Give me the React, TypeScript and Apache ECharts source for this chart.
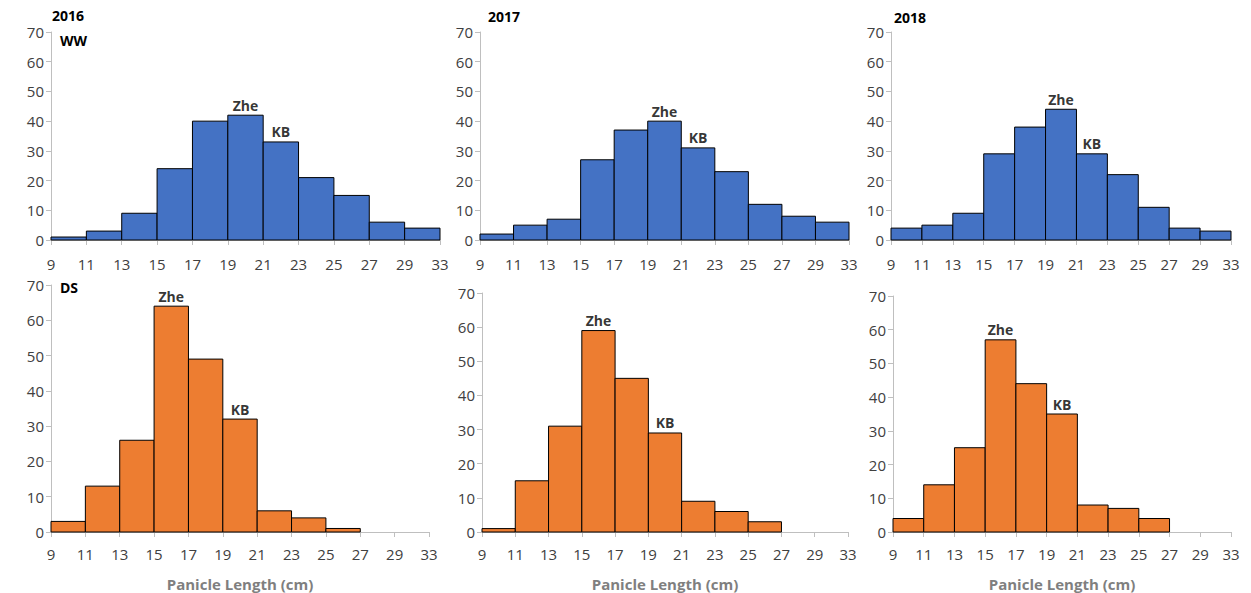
import React, { useEffect, useRef } from "react";
import * as echarts from "echarts";

const xTicks = ["9", "11", "13", "15", "17", "19", "21", "23", "25", "27", "29", "33"];
const ww2016 = [1, 3, 9, 24, 40, 42, 33, 21, 15, 6, 4];
const ww2017 = [2, 5, 7, 27, 37, 40, 31, 23, 12, 8, 6];
const ww2018 = [4, 5, 9, 29, 38, 44, 29, 22, 11, 4, 3];
const ds2016 = [3, 13, 26, 64, 49, 32, 6, 4, 1, 0, 0];
const ds2017 = [1, 15, 31, 59, 45, 29, 9, 6, 3, 0, 0];
const ds2018 = [4, 14, 25, 57, 44, 35, 8, 7, 4, 0, 0];
// bin index of the "Zhe" and "KB" markers
const wwMarks = { Zhe: 5, KB: 6 };
const dsMarks = { Zhe: 3, KB: 5 };

const BLUE = "#4472C4";
const ORANGE = "#ED7D31";
const AXIS = "#BFBFBF";
const LABEL = "#404040";
const FONT = "'Open Sans', 'Liberation Sans', sans-serif";

const grids = [
  { left: 51, top: 32, width: 389, height: 208 },
  { left: 480, top: 32, width: 369, height: 208 },
  { left: 891, top: 32, width: 340, height: 208 },
  { left: 51, top: 285, width: 378, height: 247 },
  { left: 482, top: 293, width: 366, height: 239 },
  { left: 893, top: 296, width: 338, height: 236 },
];

const panels = [
  { data: ww2016, color: BLUE, marks: wwMarks, bottom: false },
  { data: ww2017, color: BLUE, marks: wwMarks, bottom: false },
  { data: ww2018, color: BLUE, marks: wwMarks, bottom: false },
  { data: ds2016, color: ORANGE, marks: dsMarks, bottom: true },
  { data: ds2017, color: ORANGE, marks: dsMarks, bottom: true },
  { data: ds2018, color: ORANGE, marks: dsMarks, bottom: true },
];

export default function App() {
  const ref = useRef<HTMLDivElement>(null);
  useEffect(() => {
    document.body.style.margin = "0";
    const chart = echarts.init(ref.current!, null, { renderer: "svg" });
    const xAxis: any[] = [];
    const yAxis: any[] = [];
    const series: any[] = [];
    panels.forEach((p, k) => {
      xAxis.push({
        type: "value",
        gridIndex: k,
        min: 0,
        max: xTicks.length - 1,
        interval: 1,
        splitLine: { show: false },
        axisLine: { lineStyle: { color: AXIS, width: 1 } },
        axisTick: { show: true, length: 5, lineStyle: { color: AXIS } },
        axisLabel: {
          color: LABEL,
          fontSize: 15,
          fontFamily: FONT,
          margin: p.bottom ? 14 : 16,
          formatter: (v: number) => xTicks[Math.round(v)] ?? "",
        },
        name: p.bottom ? "Panicle Length (cm)" : "",
        nameLocation: "middle",
        nameGap: 44,
        nameTextStyle: { color: "#7F7F7F", fontSize: 15, fontWeight: "bold", fontFamily: FONT },
      });
      yAxis.push({
        type: "value",
        gridIndex: k,
        min: 0,
        max: 70,
        interval: 10,
        splitLine: { show: false },
        axisLine: { show: true, lineStyle: { color: AXIS, width: 1 } },
        axisTick: { show: true, length: 5, lineStyle: { color: AXIS } },
        axisLabel: { color: LABEL, fontSize: 15, fontFamily: FONT, margin: 7 },
      });
      series.push({
        type: "custom",
        xAxisIndex: k,
        yAxisIndex: k,
        data: p.data.map((v, i) => [i, v]).filter((d) => d[1] > 0),
        renderItem: (params: any, api: any) => {
          const i = api.value(0);
          const v = api.value(1);
          const p0 = api.coord([i, v]);
          const p1 = api.coord([i + 1, 0]);
          return {
            type: "rect",
            shape: { x: p0[0], y: p0[1], width: p1[0] - p0[0], height: p1[1] - p0[1] },
            style: { fill: p.color, stroke: "#000", lineWidth: 1 },
          };
        },
      });
      series.push({
        type: "scatter",
        xAxisIndex: k,
        yAxisIndex: k,
        symbolSize: 0,
        silent: true,
        data: Object.entries(p.marks).map(([name, idx]) => ({
          name,
          value: [idx + 0.5, p.data[idx]],
        })),
        label: {
          show: true,
          position: "top",
          distance: 3,
          formatter: (d: any) => d.name,
          color: "#000",
          fontWeight: "bold",
          fontSize: 14,
          fontFamily: FONT,
        },
      });
    });
    const t = (text: string, x: number, y: number) => ({
      type: "text",
      left: x,
      top: y,
      style: { text, fill: "#000", font: `bold 14px ${FONT}` },
    });
    chart.setOption({
      animation: false,
      grid: grids.map((g) => ({ ...g, containLabel: false })),
      xAxis,
      yAxis,
      series,
      graphic: [
        t("2016", 52, 8),
        t("WW", 60, 33),
        t("2017", 488, 9),
        t("2018", 894, 10),
        t("DS", 60, 280),
      ],
    });
    return () => chart.dispose();
  }, []);
  return <div ref={ref} style={{ width: 1251, height: 593 }} />;
}
